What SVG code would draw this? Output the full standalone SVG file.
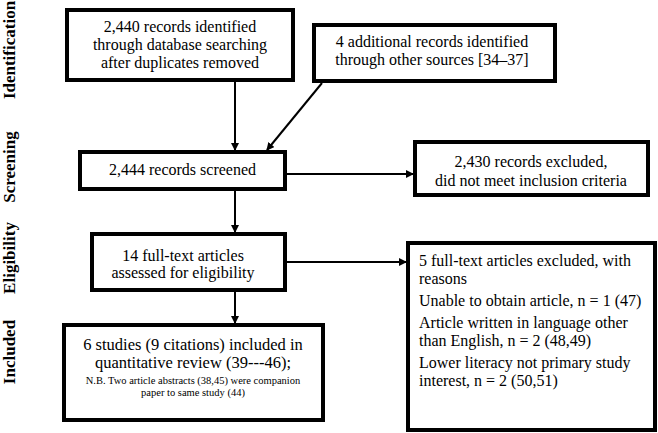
<svg xmlns="http://www.w3.org/2000/svg" width="658" height="433" viewBox="0 0 658 433">
<style>
.box{fill:#fff;stroke:#000;stroke-width:4}
.t{font-family:"Liberation Serif","Times New Roman",serif;font-size:16px;fill:#000}
.c{text-anchor:middle}
.side{font-family:"Liberation Serif","Times New Roman",serif;font-size:17px;font-weight:bold;fill:#000;text-anchor:middle}
.small{font-size:10.5px}
.big{font-size:16.5px}
.conn{stroke:#000;stroke-width:2;fill:none}
</style>
<defs>
<marker id="ah" markerWidth="8" markerHeight="8" refX="7" refY="4" orient="auto" markerUnits="userSpaceOnUse">
<path d="M0,0 L8,4 L0,8 Z" fill="#000"/>
</marker>
</defs>
<rect width="658" height="433" fill="#fff"/>
<g id="labels">
<text class="side" transform="translate(15,50) rotate(-90)">Identification</text>
<text class="side" transform="translate(15,167) rotate(-90)">Screening</text>
<text class="side" transform="translate(15,258) rotate(-90)">Eligibility</text>
<text class="side" transform="translate(15,352) rotate(-90)">Included</text>
</g>
<g id="connectors">
<line class="conn" x1="235" y1="82" x2="235" y2="150" marker-end="url(#ah)"/>
<line class="conn" x1="322" y1="83" x2="267" y2="150" marker-end="url(#ah)"/>
<line class="conn" x1="287" y1="174" x2="413" y2="174" marker-end="url(#ah)"/>
<line class="conn" x1="235" y1="191" x2="235" y2="232" marker-end="url(#ah)"/>
<line class="conn" x1="287" y1="262" x2="406" y2="262" marker-end="url(#ah)"/>
<line class="conn" x1="235" y1="292" x2="235" y2="323" marker-end="url(#ah)"/>
</g>
<g id="n1">
<rect class="box" x="67" y="10" width="226" height="70"/>
<text class="t c" x="180" y="32">2,440 records identified</text>
<text class="t c" x="180" y="50">through database searching</text>
<text class="t c" x="180" y="68">after duplicates removed</text>
</g>
<g id="n2">
<rect class="box" x="314" y="25" width="241" height="56"/>
<text class="t c" x="432" y="47">4 additional records identified</text>
<text class="t c" x="432" y="65">through other sources [34–37]</text>
</g>
<g id="n3">
<rect class="box" x="80" y="152" width="205" height="37"/>
<text class="t c" x="182.5" y="175">2,444 records screened</text>
</g>
<g id="n4">
<rect class="box" x="415" y="142" width="233" height="53"/>
<text class="t c" x="531" y="167">2,430 records excluded,</text>
<text class="t c" x="531" y="186">did not meet inclusion criteria</text>
</g>
<g id="n5">
<rect class="box" x="92" y="234" width="193" height="56"/>
<text class="t c" x="183" y="261">14 full-text articles</text>
<text class="t c" x="183" y="278">assessed for eligibility</text>
</g>
<g id="n6">
<rect class="box" x="64" y="325" width="259" height="95"/>
<text class="t c big" x="193" y="350">6 studies (9 citations) included in</text>
<text class="t c big" x="193" y="368">quantitative review (39---46);</text>
<text class="t c small" x="193" y="384">N.B. Two article abstracts (38,45) were companion</text>
<text class="t c small" x="193" y="396">paper to same study (44)</text>
</g>
<g id="n7">
<rect class="box" x="408" y="243" width="247" height="187"/>
<text class="t" x="419" y="266">5 full-text articles excluded, with</text>
<text class="t" x="419" y="284">reasons</text>
<text class="t" x="419" y="306">Unable to obtain article, n = 1 (47)</text>
<text class="t" x="419" y="328">Article written in language other</text>
<text class="t" x="419" y="346">than English, n = 2 (48,49)</text>
<text class="t" x="419" y="368">Lower literacy not primary study</text>
<text class="t" x="419" y="386">interest, n = 2 (50,51)</text>
</g>
</svg>
